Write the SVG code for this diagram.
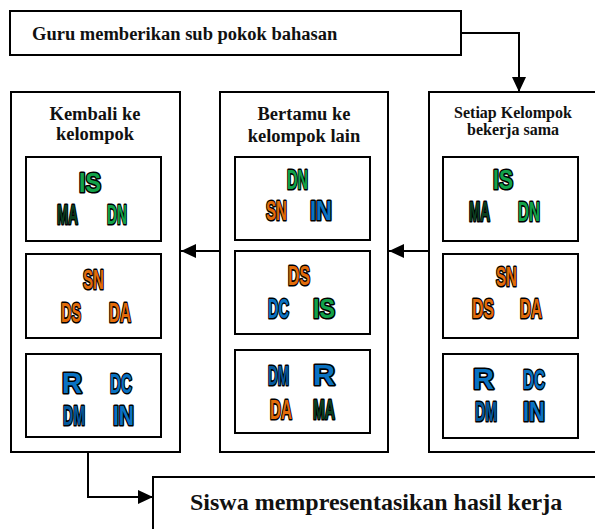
<svg xmlns="http://www.w3.org/2000/svg" width="595" height="529" viewBox="0 0 595 529">
  <defs>
    <marker id="arrow" viewBox="0 0 15 14" refX="15" refY="7" markerWidth="15" markerHeight="14" markerUnits="userSpaceOnUse" orient="auto">
      <path d="M0,0 L15,7 L0,14 z" fill="#000"/>
    </marker>
    <style>
      .box { fill: #fff; stroke: #000; stroke-width: 2; }
      .wire { fill: none; stroke: #000; stroke-width: 2; }
      .head { font-family: "Liberation Serif", "Times New Roman", serif; font-weight: bold; fill: #111; }
      .c { font-family: "Liberation Sans", Arial, sans-serif; font-weight: bold; font-size: 28px;
           stroke: #000; stroke-width: 3.2; stroke-linejoin: round; paint-order: stroke fill; }
      .r { font-family: "Liberation Sans", Arial, sans-serif; font-weight: bold; font-size: 29px;
           stroke: #000; stroke-width: 3.2; stroke-linejoin: round; paint-order: stroke fill; }
      .g { fill: #12a24a; }
      .dg { fill: #0c3f20; }
      .o { fill: #e36c0a; }
      .b { fill: #0a72c2; }
      .db { fill: #065a9e; }
    </style>
  </defs>

  <!-- connectors -->
  <g id="connectors">
    <polyline class="wire" points="461,33 519,33 519,92" marker-end="url(#arrow)"/>
    <line class="wire" x1="429" y1="251" x2="389" y2="251" marker-end="url(#arrow)"/>
    <line class="wire" x1="220" y1="251" x2="181" y2="251" marker-end="url(#arrow)"/>
    <polyline class="wire" points="88,452 88,497 153,497" marker-end="url(#arrow)"/>
  </g>

  <!-- teacher step -->
  <g id="node-guru">
    <rect class="box" x="10" y="11" width="451" height="44"/>
    <text class="head" x="32" y="40" font-size="18.5">Guru memberikan sub pokok bahasan</text>
  </g>

  <!-- column: working together -->
  <g id="node-setiap">
    <rect class="box" x="429" y="92" width="172" height="360"/>
    <text class="head" x="513" y="118" font-size="16" text-anchor="middle">Setiap Kelompok</text>
    <text class="head" x="513" y="135" font-size="16" text-anchor="middle">bekerja sama</text>
    <rect class="box" x="443" y="157" width="135" height="84"/>
    <text class="c g" x="493" y="189" textLength="20" lengthAdjust="spacingAndGlyphs">IS</text>
    <text class="c dg" x="469" y="221" textLength="21" lengthAdjust="spacingAndGlyphs">MA</text>
    <text class="c g" x="518" y="221" textLength="22" lengthAdjust="spacingAndGlyphs">DN</text>
    <rect class="box" x="443" y="254" width="135" height="84"/>
    <text class="c o" x="496" y="286" textLength="21" lengthAdjust="spacingAndGlyphs">SN</text>
    <text class="c o" x="472" y="318" textLength="22" lengthAdjust="spacingAndGlyphs">DS</text>
    <text class="c o" x="520" y="318" textLength="22" lengthAdjust="spacingAndGlyphs">DA</text>
    <rect class="box" x="443" y="354" width="135" height="84"/>
    <text class="r b" x="473" y="389" textLength="21" lengthAdjust="spacingAndGlyphs">R</text>
    <text class="c b" x="523" y="389" textLength="22" lengthAdjust="spacingAndGlyphs">DC</text>
    <text class="c db" x="475" y="421" textLength="22" lengthAdjust="spacingAndGlyphs">DM</text>
    <text class="c b" x="523" y="421" textLength="22" lengthAdjust="spacingAndGlyphs">IN</text>
  </g>

  <!-- column: visiting other groups -->
  <g id="node-bertamu">
    <rect class="box" x="220" y="92" width="168" height="360"/>
    <text class="head" x="304" y="120" font-size="18.5" text-anchor="middle">Bertamu ke</text>
    <text class="head" x="304" y="142" font-size="18.5" text-anchor="middle">kelompok lain</text>
    <rect class="box" x="235" y="157" width="135" height="83"/>
    <text class="c g" x="287" y="189" textLength="21" lengthAdjust="spacingAndGlyphs">DN</text>
    <text class="c o" x="266" y="220" textLength="21" lengthAdjust="spacingAndGlyphs">SN</text>
    <text class="c b" x="310" y="220" textLength="22" lengthAdjust="spacingAndGlyphs">IN</text>
    <rect class="box" x="235" y="251" width="135" height="83"/>
    <text class="c o" x="288" y="285" textLength="22" lengthAdjust="spacingAndGlyphs">DS</text>
    <text class="c b" x="268" y="318" textLength="21" lengthAdjust="spacingAndGlyphs">DC</text>
    <text class="c g" x="313" y="318" textLength="22" lengthAdjust="spacingAndGlyphs">IS</text>
    <rect class="box" x="235" y="350" width="135" height="83"/>
    <text class="c db" x="268" y="385" textLength="21" lengthAdjust="spacingAndGlyphs">DM</text>
    <text class="r b" x="313" y="385" textLength="22" lengthAdjust="spacingAndGlyphs">R</text>
    <text class="c o" x="270" y="419" textLength="22" lengthAdjust="spacingAndGlyphs">DA</text>
    <text class="c dg" x="313" y="419" textLength="22" lengthAdjust="spacingAndGlyphs">MA</text>
  </g>

  <!-- column: back to own group -->
  <g id="node-kembali">
    <rect class="box" x="11" y="92" width="169" height="360"/>
    <text class="head" x="95" y="120" font-size="18.5" text-anchor="middle">Kembali ke</text>
    <text class="head" x="95" y="140" font-size="18.5" text-anchor="middle">kelompok</text>
    <rect class="box" x="26" y="157" width="135" height="84"/>
    <text class="c g" x="79" y="192" textLength="22" lengthAdjust="spacingAndGlyphs">IS</text>
    <text class="c dg" x="57" y="224" textLength="21" lengthAdjust="spacingAndGlyphs">MA</text>
    <text class="c g" x="107" y="224" textLength="20" lengthAdjust="spacingAndGlyphs">DN</text>
    <rect class="box" x="26" y="254" width="135" height="84"/>
    <text class="c o" x="83" y="289" textLength="21" lengthAdjust="spacingAndGlyphs">SN</text>
    <text class="c o" x="61" y="322" textLength="20" lengthAdjust="spacingAndGlyphs">DS</text>
    <text class="c o" x="109" y="322" textLength="22" lengthAdjust="spacingAndGlyphs">DA</text>
    <rect class="box" x="26" y="354" width="135" height="83"/>
    <text class="r b" x="62" y="393" textLength="20" lengthAdjust="spacingAndGlyphs">R</text>
    <text class="c b" x="110" y="393" textLength="22" lengthAdjust="spacingAndGlyphs">DC</text>
    <text class="c db" x="63" y="425" textLength="22" lengthAdjust="spacingAndGlyphs">DM</text>
    <text class="c b" x="113" y="425" textLength="21" lengthAdjust="spacingAndGlyphs">IN</text>
  </g>

  <!-- presentation step -->
  <g id="node-siswa">
    <rect class="box" x="153" y="477" width="450" height="60"/>
    <text class="head" x="190" y="510" font-size="24">Siswa mempresentasikan hasil kerja</text>
  </g>
</svg>
